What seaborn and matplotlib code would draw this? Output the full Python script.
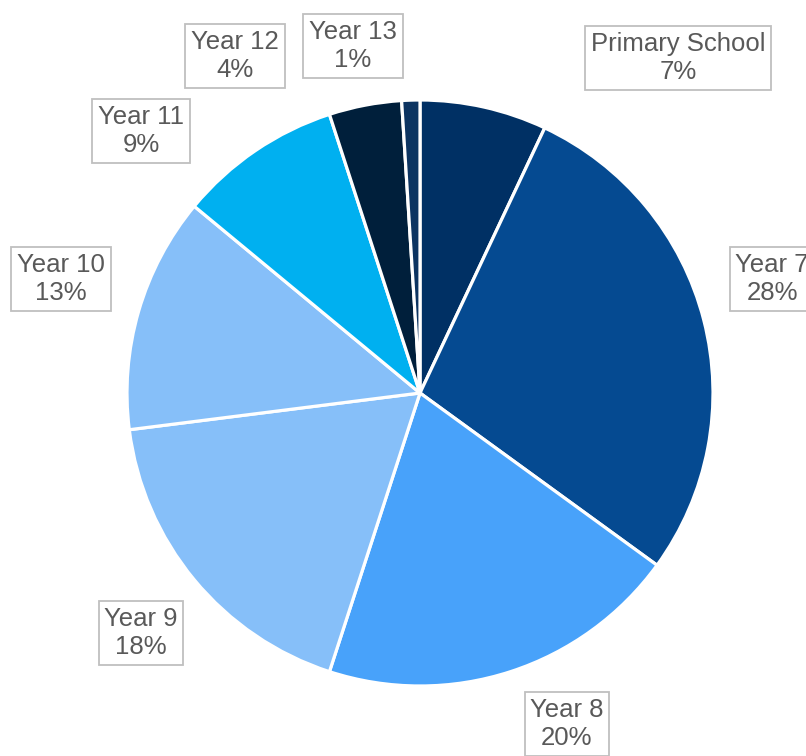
import matplotlib
matplotlib.use("Agg")
import matplotlib.pyplot as plt
import seaborn as sns

# Data
groups = ["Primary School", "Year 7", "Year 8", "Year 9",
          "Year 10", "Year 11", "Year 12", "Year 13"]
shares = [7, 28, 20, 18, 13, 9, 4, 1]
colors = ["#003064", "#054A91", "#48A2FA", "#86BFF9",
          "#86BFF9", "#00B0F0", "#001F3B", "#0C3461"]

# label box centres (pixels from top-left)
label_pos = [(678, 58), (772, 279), (567, 724), (141, 633),
             (61, 279), (141, 131), (235, 56), (353, 46)]

sns.set_theme(style="white")
plt.rcParams["font.family"] = ["Liberation Sans", "DejaVu Sans"]

W, H = 806, 756
fig = plt.figure(figsize=(W / 100, H / 100), dpi=100)
ax = fig.add_axes([0, 0, 1, 1])

ax.pie(
    shares,
    colors=colors,
    startangle=90,
    counterclock=False,
    center=(420, H - 393),
    radius=293,
    wedgeprops=dict(edgecolor="white", linewidth=2.3),
)

for name, val, (px, py) in zip(groups, shares, label_pos):
    ax.text(
        px, H - py, f"{name}\n{val}%",
        ha="center", va="center",
        fontsize=18.5, color="#595959", linespacing=1.2,
        bbox=dict(boxstyle="square,pad=0.22", facecolor="white",
                  edgecolor="#BFBFBF", linewidth=1.3),
    )

ax.set_xlim(0, W)
ax.set_ylim(0, H)
ax.set_aspect("equal")
ax.axis("off")

plt.savefig("out.png", dpi=100)
plt.close()
